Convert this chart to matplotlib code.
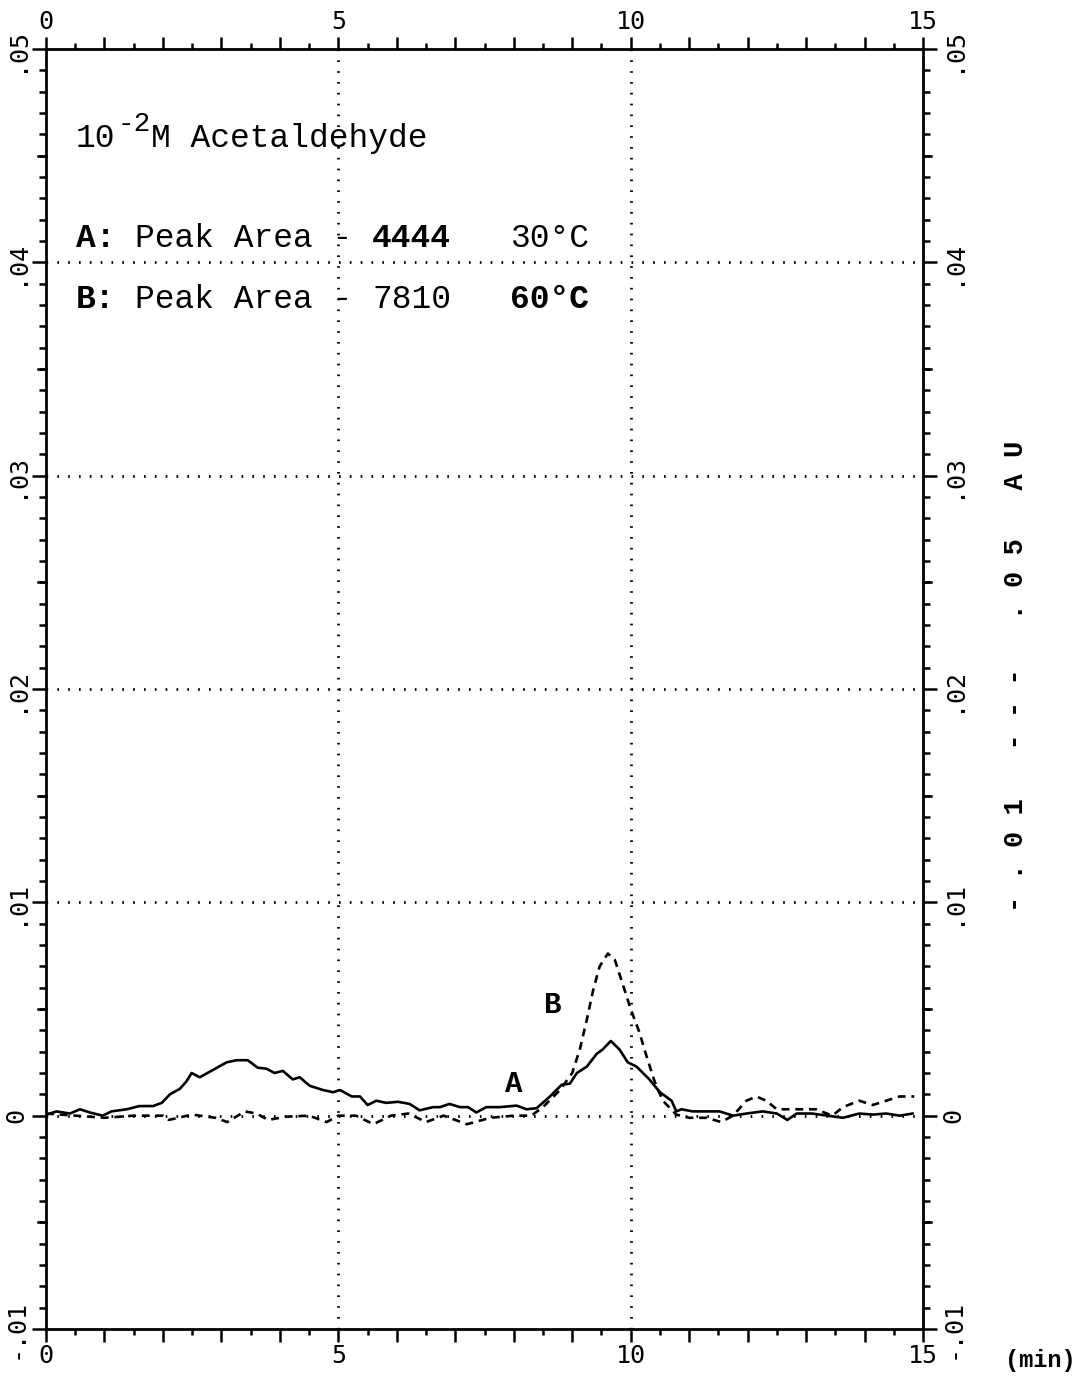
import matplotlib
matplotlib.use('Agg')
import matplotlib.pyplot as plt
from matplotlib.ticker import MultipleLocator, FixedLocator, FixedFormatter

# retention time (min) and absorbance (AU), trace A: 30 C
time_a = [0.01, 0.18, 0.41, 0.58, 0.75, 0.97, 1.12, 1.38, 1.6, 1.83, 1.98, 2.12, 2.29, 2.4,
          2.49, 2.63, 2.86, 3.09, 3.26, 3.45, 3.62, 3.77, 3.91, 4.05, 4.22, 4.34, 4.51, 4.74,
          4.91, 5.03, 5.23, 5.37, 5.5, 5.65, 5.82, 6.02, 6.22, 6.39, 6.62, 6.74, 6.9, 7.08,
          7.22, 7.36, 7.53, 7.76, 8.05, 8.22, 8.39, 8.62, 8.82, 8.96, 9.08, 9.25, 9.42, 9.52,
          9.66, 9.81, 9.95, 10.1, 10.32, 10.5, 10.7, 10.78, 10.87, 11.06, 11.3, 11.52, 11.75,
          11.98, 12.26, 12.5, 12.68, 12.84, 13.1, 13.37, 13.63, 13.91, 14.14, 14.37, 14.6, 14.82]
abs_a = [0.00005, 0.0002, 0.0001, 0.0003, 0.00015, 0.0, 0.0002, 0.0003, 0.00045, 0.00045,
         0.0006, 0.001, 0.00126, 0.0016, 0.002, 0.0018, 0.00215, 0.0025, 0.0026, 0.0026,
         0.00225, 0.0022, 0.002, 0.0021, 0.0017, 0.0018, 0.0014, 0.0012, 0.0011, 0.0012,
         0.0009, 0.0009, 0.0005, 0.0007, 0.0006, 0.00065, 0.00055, 0.00025, 0.0004, 0.0004,
         0.00055, 0.0004, 0.0004, 0.00015, 0.0004, 0.0004, 0.00047, 0.0003, 0.00035, 0.0009,
         0.00145, 0.0015, 0.002, 0.0023, 0.0029, 0.0031, 0.0035, 0.0031, 0.0025, 0.0023,
         0.0017, 0.0011, 0.0007, 0.0002, 0.0003, 0.0002, 0.0002, 0.0002, 0.0, 0.0001, 0.0002,
         0.0001, -0.0002, 0.0001, 0.0001, 0.0, -0.0001, 0.0001, 0.00005, 0.0001, 0.0, 0.0001]

# trace B: 60 C
time_b = [0.0, 0.5, 1.0, 1.5, 2.0, 2.1, 2.5, 2.9, 3.1, 3.4, 3.6, 3.8, 4.1, 4.5, 4.8, 5.0,
          5.3, 5.6, 5.9, 6.2, 6.5, 6.8, 7.2, 7.6, 8.0, 8.3, 8.5, 8.79, 9.0, 9.13, 9.25, 9.36,
          9.47, 9.61, 9.73, 9.86, 10.0, 10.15, 10.27, 10.41, 10.55, 10.78, 11.0, 11.3, 11.55,
          11.75, 11.98, 12.15, 12.32, 12.5, 12.77, 13.17, 13.45, 13.63, 13.91, 14.14, 14.37,
          14.6, 14.85]
abs_b = [0.0001, 0.0, -0.0001, 0.0, 0.0, -0.0002, 0.00005, -0.0001, -0.0003, 0.0002, 0.0001,
         -0.0002, -0.00005, 0.0, -0.0003, 0.0, 0.0, -0.0004, 0.0, 0.0001, -0.0003, 0.0,
         -0.0004, -0.0001, 0.0, 0.0, 0.0004, 0.0012, 0.002, 0.0031, 0.0045, 0.0059, 0.007,
         0.0076, 0.0073, 0.0062, 0.005, 0.0039, 0.0028, 0.0016, 0.0007, 0.00005, -0.0001,
         -0.0001, -0.0003, 0.0, 0.0007, 0.0009, 0.0007, 0.0003, 0.0003, 0.0003, 0.0, 0.0004,
         0.0007, 0.0005, 0.0007, 0.0009, 0.0009]

x_ticks = [0, 5, 10, 15]
y_ticks = [-0.01, 0.0, 0.01, 0.02, 0.03, 0.04, 0.05]
y_labels = ['-.01', '0', '.01', '.02', '.03', '.04', '.05']
y_half = [-0.005, 0.005, 0.015, 0.025, 0.035, 0.045]
grid_y = [0.0, 0.01, 0.02, 0.03, 0.04]
grid_x = [5, 10]

W, H = 1091, 1377
mono = 'Liberation Mono'
tick_font = 'DejaVu Sans Mono'
fs = 23.7
pitch = 19.75                   # character advance in px at fs


def fpos(x, y):                 # pixel position -> figure fraction
    return x / W, 1 - y / H


fig = plt.figure(figsize=(W / 100, H / 100), dpi=100)
ax = fig.add_axes([46 / W, 48 / H, (923 - 46) / W, (1329 - 49) / H])

dots = (0, (0.6, 3.3))
for gy in grid_y:
    ax.axhline(gy, color='black', lw=2.0, ls=dots, zorder=1)
for gx in grid_x:
    ax.axvline(gx, color='black', lw=2.0, ls=dots, zorder=1)

ax.plot(time_a, abs_a, color='black', lw=1.9, zorder=3)
ax.plot(time_b, abs_b, color='black', lw=1.9, ls=(0, (3.0, 2.2)), zorder=3)

ax.text(8.0, 0.0015, 'A', fontfamily=mono, fontweight='bold', fontsize=21,
        ha='center', va='center')
ax.text(8.67, 0.0052, 'B', fontfamily=mono, fontweight='bold', fontsize=21,
        ha='center', va='center')

ax.set_xlim(0, 15)
ax.set_ylim(-0.01, 0.05)

for s in ax.spines.values():
    s.set_linewidth(2.0)

# x axis: labels top and bottom, ticks outward
ax.set_xticks(range(16))
ax.set_xticklabels([str(v) if v in x_ticks else '' for v in range(16)])
ax.xaxis.set_minor_locator(MultipleLocator(0.5))
ax.tick_params(axis='x', which='both', direction='out', top=True, bottom=True,
               labeltop=True, labelbottom=True, width=1.8, labelsize=18, pad=2)
ax.tick_params(axis='x', which='major', length=9)
ax.tick_params(axis='x', which='minor', length=4)
for lab in ax.get_xticklabels():
    lab.set_fontfamily(tick_font)

# y axis: labels both sides, rotated
ax.yaxis.set_major_locator(FixedLocator(y_ticks))
ax.yaxis.set_major_formatter(FixedFormatter(y_labels))
ax.yaxis.set_minor_locator(MultipleLocator(0.001))
ax.tick_params(axis='y', which='both', direction='out', left=True, right=True,
               labelleft=True, labelright=True, width=1.8, labelsize=18,
               labelrotation=90, pad=3)
ax.tick_params(axis='y', which='major', length=10)
ax.tick_params(axis='y', which='minor', length=5)
for lab in ax.get_yticklabels():
    lab.set_fontfamily(tick_font)
    lab.set_va('center')
for lab in ax.yaxis.get_ticklabels(minor=False):
    lab.set_fontfamily(tick_font)

# half-step ticks on y are a bit longer
for v in y_half:
    ax.plot([0, -0.14], [v, v], color='black', lw=1.8, clip_on=False, zorder=4)
    ax.plot([15, 15.14], [v, v], color='black', lw=1.8, clip_on=False, zorder=4)

# header text
x0 = 76
fig.text(*fpos(x0, 147), '10', fontfamily=mono, fontsize=fs, va='baseline')
fig.text(*fpos(118, 131), '-2', fontfamily=mono, fontsize=20, va='baseline')
fig.text(*fpos(151, 147), 'M Acetaldehyde', fontfamily=mono, fontsize=fs, va='baseline')

rows = [(247, 'A:', '4444', 'bold', '30°C', 'normal'),
        (308, 'B:', '7810', 'normal', '60°C', 'bold')]
for y, tag, area, w_area, temp, w_temp in rows:
    fig.text(*fpos(x0, y), tag, fontfamily=mono, fontsize=fs, fontweight='bold', va='baseline')
    fig.text(*fpos(x0 + 3 * pitch, y), 'Peak Area -', fontfamily=mono, fontsize=fs, va='baseline')
    fig.text(*fpos(x0 + 15 * pitch, y), area, fontfamily=mono, fontsize=fs,
             fontweight=w_area, va='baseline')
    fig.text(*fpos(x0 + 22 * pitch, y), temp, fontfamily=mono, fontsize=fs,
             fontweight=w_temp, va='baseline')

# scale note on the right and time unit
fig.text(*fpos(1016, 676), '- . 0 1   - - -   . 0 5   A U', fontfamily=mono, fontsize=19.5,
         fontweight='bold', rotation=90, ha='center', va='center')
fig.text(*fpos(1040, 1360), '(min)', fontfamily=mono, fontsize=17, fontweight='bold',
         ha='center', va='center')

fig.savefig('out.png', dpi=100, facecolor='white')
